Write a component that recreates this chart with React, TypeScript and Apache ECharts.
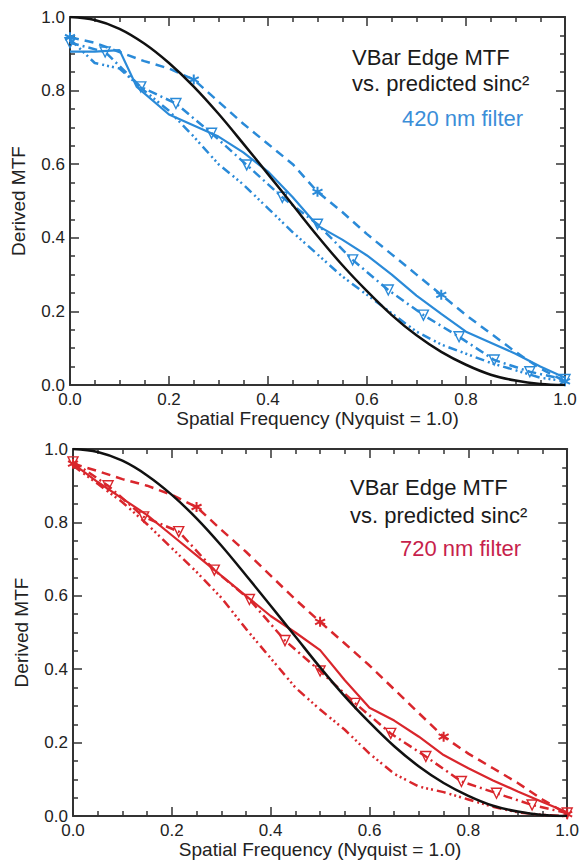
import React, { useEffect, useRef } from "react";
import * as echarts from "echarts";

const FONT = '"Liberation Sans", Arial, Helvetica, sans-serif';

// ---- data ----
const xTicks = [0, 0.2, 0.4, 0.6, 0.8, 1.0];
const yTicks = [0, 0.2, 0.4, 0.6, 0.8, 1.0];

// predicted sinc^2 (black), read at 0.05 steps
const sincFreq = [0, 0.05, 0.1, 0.15, 0.2, 0.25, 0.3, 0.35, 0.4, 0.45, 0.5, 0.55, 0.6, 0.65, 0.7, 0.75, 0.8, 0.85, 0.9, 0.95, 1.0];
const sincValues = [1.0, 0.992, 0.968, 0.928, 0.875, 0.811, 0.737, 0.656, 0.573, 0.489, 0.405, 0.326, 0.255, 0.19, 0.135, 0.09, 0.055, 0.028, 0.012, 0.003, 0.0];

// 420 nm filter (blue)
const blueSolidFreq = [0, 0.05, 0.1, 0.135, 0.2, 0.25, 0.3, 0.35, 0.4, 0.45, 0.5, 0.55, 0.6, 0.65, 0.7, 0.75, 0.8, 0.85, 0.9, 0.95, 1.0];
const blueSolidValues = [0.906, 0.906, 0.91, 0.81, 0.735, 0.705, 0.675, 0.632, 0.58, 0.51, 0.433, 0.395, 0.352, 0.3, 0.243, 0.193, 0.145, 0.115, 0.085, 0.05, 0.02];

const blueDashFreq = [0, 0.05, 0.1, 0.15, 0.2, 0.25, 0.3, 0.35, 0.4, 0.45, 0.5, 0.55, 0.6, 0.65, 0.7, 0.75, 0.8, 0.85, 0.9, 0.95, 1.0];
const blueDashValues = [0.945, 0.93, 0.905, 0.88, 0.86, 0.83, 0.77, 0.71, 0.655, 0.6, 0.525, 0.47, 0.41, 0.355, 0.3, 0.245, 0.19, 0.14, 0.09, 0.045, 0.01];
const blueStarIdx = [0, 5, 10, 15, 20];

const blueTriFreq = [0, 0.071, 0.143, 0.214, 0.286, 0.357, 0.429, 0.5, 0.571, 0.643, 0.714, 0.786, 0.857, 0.929, 1.0];
const blueTriValues = [0.93, 0.905, 0.81, 0.765, 0.684, 0.598, 0.51, 0.437, 0.34, 0.258, 0.19, 0.131, 0.068, 0.036, 0.015];

const blueDotFreq = [0, 0.05, 0.1, 0.15, 0.2, 0.25, 0.3, 0.35, 0.4, 0.45, 0.5, 0.55, 0.6, 0.65, 0.7, 0.75, 0.8, 0.85, 0.9, 0.95, 1.0];
const blueDotValues = [0.94, 0.875, 0.86, 0.8, 0.745, 0.675, 0.6, 0.545, 0.48, 0.415, 0.355, 0.295, 0.245, 0.195, 0.145, 0.11, 0.085, 0.06, 0.04, 0.02, 0.01];

// 720 nm filter (red)
const redSolidFreq = [0, 0.05, 0.1, 0.15, 0.2, 0.25, 0.3, 0.35, 0.4, 0.45, 0.5, 0.55, 0.6, 0.65, 0.7, 0.75, 0.8, 0.85, 0.9, 0.95, 1.0];
const redSolidValues = [0.96, 0.91, 0.865, 0.82, 0.765, 0.71, 0.655, 0.6, 0.545, 0.5, 0.452, 0.37, 0.295, 0.26, 0.216, 0.166, 0.13, 0.097, 0.067, 0.038, 0.01];

const redDashFreq = [0, 0.05, 0.1, 0.15, 0.2, 0.25, 0.3, 0.35, 0.4, 0.45, 0.5, 0.55, 0.6, 0.65, 0.7, 0.75, 0.8, 0.85, 0.9, 0.95, 1.0];
const redDashValues = [0.96, 0.94, 0.918, 0.9, 0.875, 0.842, 0.78, 0.72, 0.655, 0.59, 0.529, 0.47, 0.41, 0.345, 0.28, 0.216, 0.17, 0.13, 0.09, 0.045, 0.005];
const redStarIdx = [0, 5, 10, 15, 20];

const redTriFreq = [0, 0.071, 0.143, 0.214, 0.286, 0.357, 0.429, 0.5, 0.571, 0.643, 0.714, 0.786, 0.857, 0.929, 1.0];
const redTriValues = [0.965, 0.9, 0.815, 0.775, 0.67, 0.59, 0.478, 0.395, 0.307, 0.225, 0.162, 0.094, 0.062, 0.03, 0.008];

const redDotFreq = [0, 0.05, 0.1, 0.15, 0.2, 0.25, 0.3, 0.35, 0.4, 0.45, 0.5, 0.55, 0.6, 0.65, 0.7, 0.75, 0.8, 0.85, 0.9, 0.95, 1.0];
const redDotValues = [0.955, 0.905, 0.855, 0.795, 0.73, 0.665, 0.595, 0.51, 0.43, 0.35, 0.29, 0.235, 0.17, 0.115, 0.08, 0.065, 0.045, 0.025, 0.01, 0.003, 0.0];

const xName = "Spatial Frequency (Nyquist = 1.0)";
const yName = "Derived MTF";

const BLUE = "#2a8ad8";
const BLUE_TEXT = "#3b8ed8";
const RED = "#d9262c";
const RED_TEXT = "#c71f4c";
const AXIS = "#333";

const STAR = "path://M5,0L5,10M0.67,2.5L9.33,7.5M0.67,7.5L9.33,2.5";

const DASH = [9, 6];
const DASH_DOT = [9, 4, 2, 4];
const DASH_DOT3 = [9, 4, 2, 3, 2, 3, 2, 4];

function pairs(f: number[], v: number[]) {
  return f.map((x, i) => [x, v[i]]);
}

function line(ax: number, f: number[], v: number[], color: string, width: number, type: any, z = 2, smooth: any = false) {
  return {
    type: "line",
    xAxisIndex: ax,
    yAxisIndex: ax,
    data: pairs(f, v),
    symbol: "none",
    silent: true,
    smooth,
    z,
    lineStyle: { color, width, type },
  };
}

function markers(ax: number, f: number[], v: number[], idx: number[] | null, symbol: string, color: string, size: number, rotate = 0) {
  const d = pairs(f, v).filter((_, i) => (idx ? idx.includes(i) : true));
  return {
    type: "scatter",
    xAxisIndex: ax,
    yAxisIndex: ax,
    data: d,
    symbol,
    symbolSize: size,
    symbolRotate: rotate,
    silent: true,
    z: 3,
    itemStyle: { color: symbol === STAR ? color : "rgba(255,255,255,0)", borderColor: color, borderWidth: symbol === STAR ? 2 : 1.4, opacity: 1 },
  };
}

function axisPair(grid: number, dir: "x" | "y") {
  const common = {
    gridIndex: grid,
    type: "value",
    min: 0,
    max: 1,
    interval: 0.2,
    splitLine: { show: false },
    minorSplitLine: { show: false },
    axisLine: { show: true, onZero: false, lineStyle: { color: AXIS, width: 2 } },
    axisTick: { show: true, inside: true, length: 9, lineStyle: { color: AXIS, width: 1.5 } },
    minorTick: { show: true, splitNumber: 4, length: 5, lineStyle: { color: AXIS, width: 1.5 } },
  };
  const main = {
    ...common,
    position: dir === "x" ? "bottom" : "left",
    name: dir === "x" ? xName : yName,
    nameLocation: "middle",
    nameGap: dir === "x" ? 24 : 42,
    nameTextStyle: { fontSize: 19, color: "#222", fontFamily: FONT },
    axisLabel: {
      show: true,
      formatter: (val: number) => {
        const ticks = dir === "x" ? xTicks : yTicks;
        const t = ticks.find((k) => Math.abs(k - val) < 1e-6);
        return t === undefined ? "" : t.toFixed(1);
      },
      fontSize: 17,
      color: "#222",
      fontFamily: FONT,
      margin: dir === "x" ? 6 : 5,
    },
  };
  const opp = {
    ...common,
    position: dir === "x" ? "top" : "right",
    axisLabel: { show: false },
  };
  return [main, opp];
}

export default function App() {
  const ref = useRef<HTMLDivElement>(null);
  useEffect(() => {
    if (!ref.current) return;
    const chart = echarts.init(ref.current, null, { renderer: "svg" });
    const xAxis = [...axisPair(0, "x"), ...axisPair(1, "x")];
    const yAxis = [...axisPair(0, "y"), ...axisPair(1, "y")];
    const TOP = 0;
    const BOT = 2;
    const textStyle = (t: string, fill: string) => ({ text: t, fill, font: `22px ${FONT}` });
    chart.setOption({
      animation: false,
      backgroundColor: "#fff",
      grid: [
        { left: 70, top: 17, width: 495, height: 368 },
        { left: 73, top: 449, width: 495, height: 367 },
      ],
      xAxis,
      yAxis,
      series: [
        line(TOP, blueDotFreq, blueDotValues, BLUE, 2.5, DASH_DOT3),
        line(TOP, blueTriFreq, blueTriValues, BLUE, 2.5, DASH_DOT),
        line(TOP, blueDashFreq, blueDashValues, BLUE, 2.5, DASH),
        line(TOP, blueSolidFreq, blueSolidValues, BLUE, 2.2, "solid"),
        markers(TOP, blueTriFreq, blueTriValues, null, "triangle", BLUE, 10, 180),
        markers(TOP, blueDashFreq, blueDashValues, blueStarIdx, STAR, BLUE, 10),
        line(TOP, sincFreq, sincValues, "#111", 2.5, "solid", 4, 0.35),

        line(BOT, redDotFreq, redDotValues, RED, 2.5, DASH_DOT3),
        line(BOT, redTriFreq, redTriValues, RED, 2.5, DASH_DOT),
        line(BOT, redDashFreq, redDashValues, RED, 2.5, DASH),
        line(BOT, redSolidFreq, redSolidValues, RED, 2.2, "solid"),
        markers(BOT, redTriFreq, redTriValues, null, "triangle", RED, 10, 180),
        markers(BOT, redDashFreq, redDashValues, redStarIdx, STAR, RED, 10),
        line(BOT, sincFreq, sincValues, "#111", 2.5, "solid", 4, 0.35),
      ],
      graphic: [
        { type: "text", left: 352, top: 46, silent: true, style: textStyle("VBar Edge MTF", "#1a1a1a") },
        { type: "text", left: 352, top: 72, silent: true, style: textStyle("vs. predicted sinc²", "#1a1a1a") },
        { type: "text", left: 402, top: 107, silent: true, style: textStyle("420 nm filter", BLUE_TEXT) },
        { type: "text", left: 350, top: 476, silent: true, style: textStyle("VBar Edge MTF", "#1a1a1a") },
        { type: "text", left: 350, top: 504, silent: true, style: textStyle("vs. predicted sinc²", "#1a1a1a") },
        { type: "text", left: 400, top: 537, silent: true, style: textStyle("720 nm filter", RED_TEXT) },
      ],
    });
    return () => chart.dispose();
  }, []);
  return (
    <div
      ref={ref}
      style={{ position: "absolute", left: 0, top: 0, width: 582, height: 867, background: "#fff" }}
    />
  );
}
